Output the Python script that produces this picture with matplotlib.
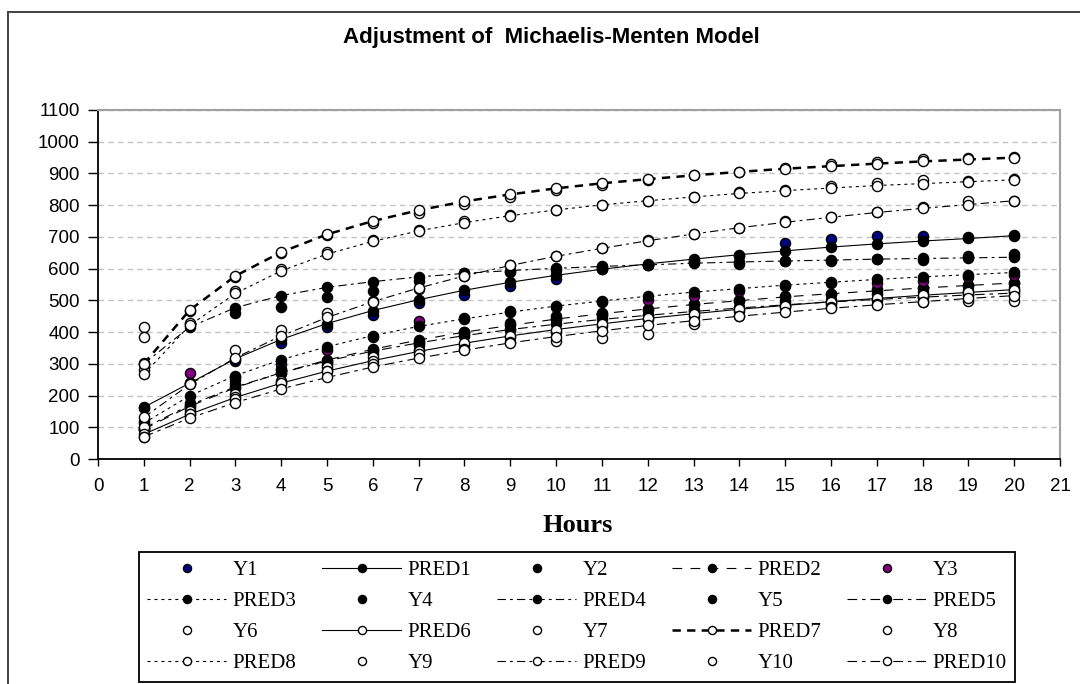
import matplotlib
matplotlib.use("Agg")
import matplotlib.pyplot as plt
from matplotlib.patches import Rectangle

plt.rcParams['lines.scale_dashes'] = False

hours = list(range(1, 21))

Y1 = [160, 240, 310, 365, 415, 455, 492, 516, 545, 568, 600, 612, 625, 640, 681, 693, 704, 704, 700, 705]
PRED1 = [163, 239, 316, 377, 427, 468, 502, 532, 557, 579, 598, 615, 630, 644, 656, 668, 678, 687, 695, 704]
Y2 = [95, 160, 250, 285, 305, 345, 370, 400, 430, 450, 460, 470, 490, 500, 515, 520, 535, 540, 545, 555]
PRED2 = [94, 166, 225, 272, 312, 346, 375, 400, 421, 441, 458, 473, 487, 499, 511, 521, 530, 539, 547, 555]
Y3 = [120, 270, 260, 300, 345, 385, 435, 445, 466, 480, 495, 500, 515, 530, 545, 555, 555, 560, 575, 580]
PRED3 = [113, 199, 263, 313, 354, 389, 418, 442, 463, 482, 498, 513, 526, 537, 548, 557, 566, 574, 581, 588]
Y4 = [303, 425, 460, 480, 510, 530, 560, 585, 590, 595, 605, 610, 620, 615, 625, 625, 630, 628, 640, 645]
PRED4 = [300, 416, 477, 515, 541, 559, 574, 585, 594, 601, 607, 612, 617, 621, 624, 627, 630, 632, 634, 636]
Y5 = [90, 175, 235, 280, 300, 330, 360, 395, 410, 440, 450, 455, 470, 480, 495, 500, 520, 525, 530, 540]
PRED5 = [97, 170, 227, 272, 309, 340, 366, 389, 408, 425, 440, 453, 465, 476, 486, 495, 503, 510, 517, 523]
Y6 = [100, 150, 205, 245, 290, 320, 345, 360, 385, 400, 420, 440, 450, 465, 480, 490, 500, 510, 520, 530]
PRED6 = [78, 141, 194, 239, 277, 310, 339, 365, 388, 408, 426, 443, 458, 472, 484, 496, 506, 516, 525, 534]
Y7 = [280, 465, 575, 650, 705, 745, 775, 805, 825, 848, 864, 880, 895, 904, 916, 929, 937, 945, 950, 953]
PRED7 = [300, 469, 577, 652, 708, 750, 784, 812, 834, 853, 869, 882, 894, 905, 915, 923, 931, 938, 944, 950]
Y8 = [415, 430, 530, 600, 654, 691, 722, 750, 770, 785, 801, 814, 827, 843, 848, 861, 869, 880, 877, 882]
PRED8 = [267, 421, 522, 593, 646, 686, 719, 745, 767, 785, 801, 814, 826, 837, 846, 854, 862, 868, 874, 880]
Y9 = [385, 236, 345, 408, 461, 497, 536, 576, 610, 639, 665, 689, 709, 728, 749, 762, 777, 794, 812, 814]
PRED9 = [131, 235, 319, 388, 446, 496, 539, 577, 610, 639, 664, 688, 709, 729, 746, 762, 777, 790, 802, 814]
Y10 = [68, 141, 188, 241, 277, 300, 330, 346, 369, 372, 382, 393, 424, 450, 482, 480, 490, 495, 497, 497]
PRED10 = [70, 129, 178, 221, 257, 290, 318, 343, 366, 386, 404, 421, 436, 450, 463, 475, 486, 496, 506, 515]

title = "Adjustment of  Michaelis-Menten Model"
xlabel = "Hours"

observed = [Y1, Y2, Y3, Y4, Y5, Y6, Y7, Y8, Y9, Y10]
predicted = [PRED1, PRED2, PRED3, PRED4, PRED5, PRED6, PRED7, PRED8, PRED9, PRED10]

y_face = ['#000080', 'black', '#800080', 'black', 'black',
          'white', 'white', 'white', 'white', 'white']
pred_face = ['black'] * 5 + ['white'] * 5
pred_ls = ['-', (0, (7, 6)), (0, (2.2, 2.8)), (0, (6, 3, 2, 3)), (0, (7, 3.5, 2.5, 3.5)),
           '-', (0, (6, 4.5)), (0, (2.2, 2.8)), (0, (6, 3, 2, 3)), (0, (7, 3.5, 2.5, 3.5))]
pred_lw = [0.8] * 6 + [1.8] + [0.8] * 3

W, H = 1080, 684
fig = plt.figure(figsize=(W / 100, H / 100), dpi=100)
fig.patch.set_facecolor('white')

# outer frame
fig.patches.append(Rectangle((8 / W, -0.05), 2.0, 1 - 12 / H + 0.05, transform=fig.transFigure,
                             fill=False, edgecolor='#404040', lw=1.4, zorder=0))

ax = fig.add_axes([98 / W, 1 - 459 / H, (1060 - 98) / W, (459 - 110) / H])

handles = []
labels = []
z = 3
for i in range(10):
    h1, = ax.plot(hours, observed[i], linestyle='none', marker='o', markersize=7.3,
                  markerfacecolor=y_face[i], markeredgecolor='black', markeredgewidth=1.0,
                  zorder=z, clip_on=False)
    z += 1
    h2, = ax.plot(hours, predicted[i], linestyle=pred_ls[i], color='black', lw=pred_lw[i],
                  marker='o', markersize=7.3, markerfacecolor=pred_face[i],
                  markeredgecolor='black', markeredgewidth=1.0, zorder=z, clip_on=False)
    z += 1
    handles += [h1, h2]
    labels += ['Y%d' % (i + 1), 'PRED%d' % (i + 1)]

ax.set_xlim(0, 21)
ax.set_ylim(0, 1100)
ax.set_xticks(range(0, 22))
ax.set_yticks(range(0, 1101, 100))
for s in ['left', 'bottom']:
    ax.spines[s].set_color('black')
    ax.spines[s].set_linewidth(1.3)
for s in ['top', 'right']:
    ax.spines[s].set_color('#a0a0a0')
    ax.spines[s].set_linewidth(1.5)
ax.yaxis.grid(True, color='#c4c4c4', linestyle=(0, (4, 3)), lw=1.0)
ax.set_axisbelow(True)
ax.tick_params(axis='y', direction='out', length=7, width=1, pad=6, labelsize=13.5,
               colors='black')
ax.tick_params(axis='x', direction='out', length=5, width=1, pad=9, labelsize=13.5,
               colors='black')
for lab in ax.get_xticklabels() + ax.get_yticklabels():
    lab.set_fontfamily('Liberation Sans')

fig.text(551 / W, 1 - 37 / H, title, ha='center', va='center', fontsize=16,
         fontweight='bold', family='Liberation Sans')
fig.text(578 / W, 1 - 525 / H, xlabel, ha='center', va='center', fontsize=19,
         fontweight='bold', family='Liberation Serif')

# legend, row-wise order with 5 columns
order = [r * 5 + c for c in range(5) for r in range(4)]
leg = fig.legend([handles[k] for k in order], [labels[k] for k in order], ncol=5,
                 loc='center', mode='expand',
                 bbox_to_anchor=(139 / W, 1 - 682 / H, 876 / W, 130 / H),
                 borderaxespad=0, prop={'family': 'Liberation Serif', 'size': 15},
                 handlelength=3.8, handletextpad=0.3, labelspacing=0.55,
                 borderpad=0.4, columnspacing=1.0, markerscale=0.8,
                 fancybox=False, framealpha=1, edgecolor='black')
leg.get_frame().set_linewidth(1.3)

fig.savefig('out.png', dpi=100)
